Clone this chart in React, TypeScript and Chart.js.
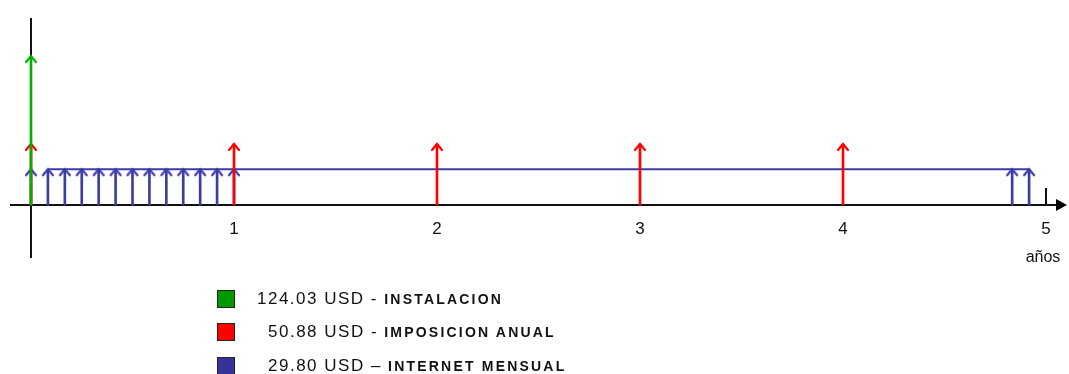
import { useEffect, useRef } from 'react';
import { Chart, registerables } from 'chart.js';

Chart.register(...registerables);

// ---- data ----
const installationYears = [0];
const installationValue = 124.03;
const annualYears = [0, 1, 2, 3, 4];
const annualValue = 50.88;
const monthlyMonths = [0, 1, 2, 3, 4, 5, 6, 7, 8, 9, 10, 11, 12, 58, 59];
const monthlyValue = 29.8;
const monthlyLineMonths = [1, 59];
const xTickValues = [1, 2, 3, 4, 5];
const xTickLabels = ['1', '2', '3', '4', '5'];
const axisUnitLabel = 'años';
const legendAmounts = ['124.03 USD', '50.88 USD', '29.80 USD'];
const legendSeparators = [' - ', ' - ', ' – '];
const legendLabels = ['INSTALACION', 'IMPOSICION ANUAL', 'INTERNET MENSUAL'];

// ---- styles ----
const GREEN = '#00b000';
const RED = '#ff0000';
const BLUE = '#3c3ca8';
const legendColors = ['#009a00', '#ff0000', '#33339a'];
const FONT = '"Liberation Sans", Arial, sans-serif';

function chevron(color: string): HTMLCanvasElement {
  const c = document.createElement('canvas');
  c.width = 14;
  c.height = 18;
  const g = c.getContext('2d')!;
  g.strokeStyle = color;
  g.lineWidth = 2.2;
  g.lineCap = 'round';
  g.lineJoin = 'miter';
  g.beginPath();
  g.moveTo(2, 15);
  g.lineTo(7, 9);
  g.lineTo(12, 15);
  g.stroke();
  return c;
}

const axesPlugin = {
  id: 'cashflowAxes',
  beforeDatasetsDraw(chart: any) {
    const { ctx, scales } = chart;
    const xs = scales.x;
    const ys = scales.y;
    const y0 = ys.getPixelForValue(0);
    const x0 = xs.getPixelForValue(0);
    const x5 = xs.getPixelForValue(5);
    ctx.save();
    ctx.strokeStyle = '#111';
    ctx.fillStyle = '#000';
    ctx.lineWidth = 2;
    // horizontal axis
    ctx.beginPath();
    ctx.moveTo(10, y0);
    ctx.lineTo(x5 + 12, y0);
    ctx.stroke();
    ctx.beginPath();
    ctx.moveTo(x5 + 10, y0 - 6);
    ctx.lineTo(x5 + 21, y0);
    ctx.lineTo(x5 + 10, y0 + 6);
    ctx.closePath();
    ctx.fill();
    // vertical axis
    ctx.beginPath();
    ctx.moveTo(x0, 18);
    ctx.lineTo(x0, 258);
    ctx.stroke();
    // tick at 5
    ctx.beginPath();
    ctx.moveTo(x5, y0 - 17);
    ctx.lineTo(x5, y0);
    ctx.stroke();
    // labels
    ctx.font = '17px ' + FONT;
    ctx.textAlign = 'center';
    ctx.textBaseline = 'middle';
    ctx.fillStyle = '#111';
    xTickValues.forEach((v, i) => {
      ctx.fillText(xTickLabels[i], xs.getPixelForValue(v), y0 + 24);
    });
    ctx.font = '16px ' + FONT;
    ctx.fillText(axisUnitLabel, x5 - 3, y0 + 53);
    ctx.restore();
  },
};

export default function App() {
  const ref = useRef<HTMLCanvasElement | null>(null);

  useEffect(() => {
    if (!ref.current) return;
    const greenHead = chevron(GREEN);
    const redHead = chevron(RED);
    const blueHead = chevron(BLUE);
    const pxPerYear = 203;
    const originX = 31;
    const pxPerUsd = 1.2;
    const originY = 205;
    const W = 1069;
    const H = 374;

    const inst = installationYears.map((x) => ({ x, y: installationValue }));
    const annual = annualYears.map((x) => ({ x, y: annualValue }));
    const monthly = monthlyMonths.map((m) => ({ x: m / 12, y: monthlyValue }));
    const monthlyLine = monthlyLineMonths.map((m) => ({ x: m / 12, y: monthlyValue }));

    const barCommon = { barThickness: 2, grouped: false, borderWidth: 0 };
    const headCommon = { pointRadius: 6, pointHoverRadius: 6, showLine: false };

    const chart = new Chart(ref.current, {
      type: 'bar',
      data: {
        datasets: [
          { type: 'bar', data: inst, backgroundColor: GREEN, order: 1, ...barCommon } as any,
          { type: 'scatter', data: inst, pointStyle: greenHead, order: 0, ...headCommon } as any,
          { type: 'bar', data: annual, backgroundColor: RED, order: 3, ...barCommon } as any,
          { type: 'scatter', data: annual, pointStyle: redHead, order: 2, ...headCommon } as any,
          { type: 'bar', data: monthly, backgroundColor: BLUE, order: 5, ...barCommon } as any,
          { type: 'scatter', data: monthly, pointStyle: blueHead, order: 4, ...headCommon } as any,
          {
            type: 'line',
            data: monthlyLine,
            borderColor: BLUE,
            borderWidth: 2,
            pointRadius: 0,
            fill: false,
            order: 6,
          } as any,
        ],
      },
      options: {
        responsive: false,
        animation: false,
        devicePixelRatio: 1,
        layout: { padding: 0, autoPadding: false },
        plugins: { legend: { display: false }, tooltip: { enabled: false } },
        scales: {
          x: {
            type: 'linear',
            display: false,
            offset: false,
            min: -originX / pxPerYear,
            max: (W - originX) / pxPerYear,
          },
          y: {
            type: 'linear',
            display: false,
            min: -(H - originY) / pxPerUsd,
            max: originY / pxPerUsd,
          },
        },
      } as any,
      plugins: [axesPlugin],
    });
    return () => chart.destroy();
  }, []);

  const legendTops = [290, 323, 357];
  const textLefts = [257, 268, 268];

  return (
    <div style={{ position: 'fixed', left: 0, top: 0, width: 1069, height: 374, background: '#fff', overflow: 'hidden' }}>
      <canvas ref={ref} width={1069} height={374} style={{ position: 'absolute', left: 0, top: 0 }} />
      {legendLabels.map((label, i) => (
        <div key={label}>
          <div
            style={{
              position: 'absolute',
              left: 217,
              top: legendTops[i],
              width: 16,
              height: 16,
              background: legendColors[i],
              border: '1px solid #222',
            }}
          />
          <div
            style={{
              position: 'absolute',
              left: textLefts[i],
              top: legendTops[i] - 2,
              height: 22,
              lineHeight: '22px',
              whiteSpace: 'nowrap',
              color: '#111',
              fontFamily: FONT,
            }}
          >
            <span style={{ fontSize: 17, letterSpacing: 1.5 }}>
              {legendAmounts[i]}
              {legendSeparators[i]}
            </span>
            <span style={{ fontSize: 14, fontWeight: 'bold', letterSpacing: 2.2 }}>{label}</span>
          </div>
        </div>
      ))}
    </div>
  );
}
